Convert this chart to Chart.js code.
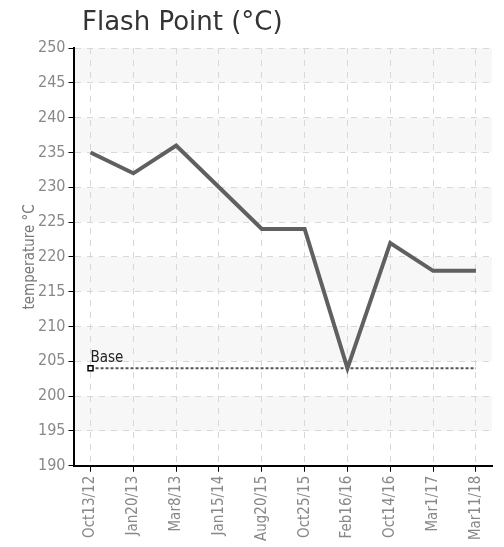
<!DOCTYPE html>
<html>
<head>
<meta charset="utf-8">
<script src="https://cdn.jsdelivr.net/npm/chart.js@4.4.0/dist/chart.umd.min.js"></script>
<style>
  body { margin: 0; background: #fff; }
  #wrap { position: relative; width: 504px; height: 547px; }
  #title { position: absolute; left: 82px; top: 6px; font-family: 'DejaVu Sans', sans-serif; font-size: 26px; color: #333; }
</style>
</head>
<body>
<div id="wrap">
  <canvas id="flashChart" width="504" height="547"></canvas>
  <div id="title">Flash Point (°C)</div>
</div>
<script>
var dates = ['Oct13/12', 'Jan20/13', 'Mar8/13', 'Jan15/14', 'Aug20/15', 'Oct25/15', 'Feb16/16', 'Oct14/16', 'Mar1/17', 'Mar11/18'];
var flashPoint = [235, 232, 236, 230, 224, 224, 204, 222, 218, 218];
var baseValues = [204, 204, 204, 204, 204, 204, 204, 204, 204, 204];
var baseLabel = 'Base';
var yTitle = 'temperature °C';

var narrow = "'Liberation Sans Narrow', 'DejaVu Sans Condensed', 'Roboto Condensed', sans-serif";

// alternating grey bands behind the plot
var bandPlugin = {
    id: 'bands',
    beforeDraw: function(chart) {
        var ctx = chart.ctx;
        var area = chart.chartArea;
        var y = chart.scales.y;
        ctx.save();
        ctx.fillStyle = '#f7f7f7';
        for (var v = 250; v > 190; v -= 10) {
            var top = y.getPixelForValue(v);
            var bottom = y.getPixelForValue(v - 5);
            ctx.fillRect(area.left, top, area.right - area.left, bottom - top);
        }
        ctx.restore();
    }
};

// "Base" label next to the first point of the base line
var baseLabelPlugin = {
    id: 'baseLabel',
    afterDatasetsDraw: function(chart) {
        var meta = chart.getDatasetMeta(1);
        var pt = meta.data[0];
        var ctx = chart.ctx;
        ctx.save();
        ctx.font = "15px " + narrow;
        ctx.fillStyle = '#222';
        ctx.textBaseline = 'bottom';
        ctx.fillText(baseLabel, pt.x, pt.y - 3);
        ctx.restore();
    }
};

var canvas = document.getElementById('flashChart');

var chart = new Chart(canvas, {
    type: 'line',
    data: {
        datasets: [{
            label: 'Flash Point',
            data: flashPoint.map((v, i) => ({ x: i, y: v })),
            borderColor: '#606060',
            borderWidth: 4,
            pointRadius: 0,
            tension: 0,
            fill: false
        }, {
            label: baseLabel,
            data: baseValues.map((v, i) => ({ x: i, y: v })),
            borderColor: '#555555',
            borderWidth: 2,
            borderDash: [3, 2],
            pointStyle: 'rect',
            pointRadius: [3.5, 0, 0, 0, 0, 0, 0, 0, 0, 0],
            pointBackgroundColor: '#fff',
            pointBorderColor: '#000',
            pointBorderWidth: 1.5,
            tension: 0,
            fill: false
        }]
    },
    options: {
        responsive: false,
        animation: false,
        layout: {
            padding: { top: 48, right: 12, bottom: 2, left: 8 }
        },
        plugins: {
            legend: { display: false },
            tooltip: { enabled: false }
        },
        scales: {
            x: {
                type: 'linear',
                min: -0.375,
                max: dates.length - 1 + 0.375,
                afterBuildTicks: function(scale) {
                    scale.ticks = dates.map((d, i) => ({ value: i }));
                },
                grid: {
                    color: '#d8d8d8',
                    tickColor: '#000',
                    tickLength: 6
                },
                border: { color: '#000', width: 2, dash: [6, 6] },
                ticks: {
                    maxRotation: 90,
                    minRotation: 90,
                    color: '#888',
                    padding: 4,
                    font: { family: narrow, size: 15 },
                    callback: function(value) {
                        return dates[value];
                    }
                }
            },
            y: {
                min: 190,
                max: 250,
                grid: {
                    color: '#d8d8d8',
                    tickColor: '#000',
                    tickLength: 6
                },
                border: { color: '#000', width: 2, dash: [6, 6] },
                ticks: {
                    stepSize: 5,
                    color: '#888',
                    padding: 3,
                    font: { family: narrow, size: 16 }
                },
                title: {
                    display: true,
                    text: yTitle,
                    color: '#777',
                    padding: { top: 13, bottom: -4 },
                    font: { family: narrow, size: 15 }
                }
            }
        }
    },
    plugins: [bandPlugin, baseLabelPlugin]
});
</script>
</body>
</html>
